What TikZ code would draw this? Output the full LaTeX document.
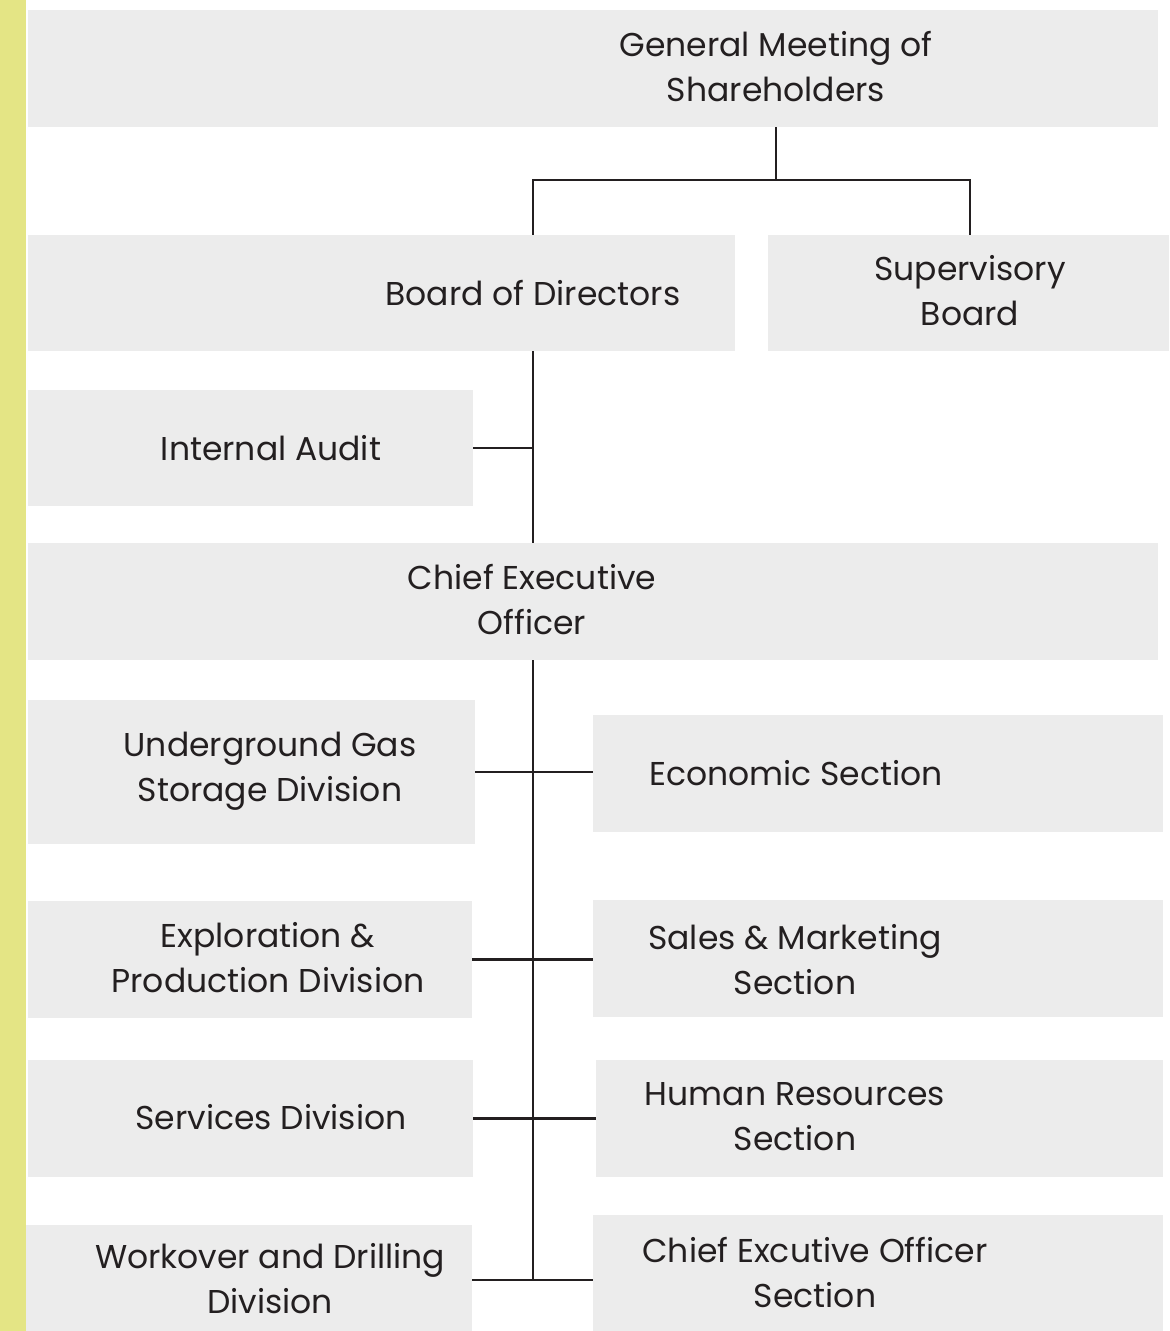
\documentclass[tikz,border=0pt]{standalone}
\usepackage{fontspec}
\setmainfont{Poppins}
\usepackage{tikz}

\definecolor{boxgray}{HTML}{ECECEC}
\definecolor{barlime}{HTML}{E4E585}
\definecolor{ink}{HTML}{231F20}

\tikzset{
  box/.style={fill=boxgray, draw=none, inner sep=0pt},
  boxsize/.style 2 args={minimum width=#1*0.5pt, minimum height=#2*0.5pt},
  txt/.style={align=center, inner sep=0pt, text=ink,
    font=\fontsize{16.5}{22.5}\selectfont},
  link/.style={draw=ink, line width=1.4pt}
}

\begin{document}
\begin{tikzpicture}[x=0.5pt, y=-0.5pt]
  \useasboundingbox (0,0) rectangle (1169,1331);
  % side bar
  \fill[barlime] (0,0) rectangle (26,1331);
  % boxes
  \node[box, boxsize={1130}{117}] (gm)   at (593,68.5) {};
  \node[box, boxsize={707}{116}]  (bod)  at (381.5,293) {};
  \node[box, boxsize={401}{116}]  (sb)   at (968.5,293) {};
  \node[box, boxsize={445}{116}]  (ia)   at (250.5,448) {};
  \node[box, boxsize={1130}{117}] (ceo)  at (593,601.5) {};
  \node[box, boxsize={447}{144}]  (ugs)  at (251.5,772) {};
  \node[box, boxsize={570}{117}]  (econ) at (878,773.5) {};
  \node[box, boxsize={444}{117}]  (ep)   at (250,959.5) {};
  \node[box, boxsize={570}{117}]  (sm)   at (878,958.5) {};
  \node[box, boxsize={445}{117}]  (svc)  at (250.5,1118.5) {};
  \node[box, boxsize={567}{117}]  (hr)   at (879.5,1118.5) {};
  \node[box, boxsize={446}{106}]  (wd)   at (249,1278) {};
  \node[box, boxsize={570}{116}]  (ceos) at (878,1273) {};
  % labels
  \node[txt] (gmtxt)   at (776,67)    {General Meeting of\\Shareholders};
  \node[txt] (bodtxt)  at (533,293)   {Board of Directors};
  \node[txt] (sbtxt)   at (970,291)   {Supervisory\\Board};
  \node[txt] (iatxt)   at (271,448)   {Internal Audit};
  \node[txt] (ceotxt)  at (532,600)   {Chief Executive\\Officer};
  \node[txt] (ugstxt)  at (270,771)   {Underground Gas\\Storage Division};
  \node[txt] (econtxt) at (796,773)   {Economic Section};
  \node[txt] (eptxt)   at (268,958)   {Exploration \&\\Production Division};
  \node[txt] (smtxt)   at (795,960)   {Sales \& Marketing\\Section};
  \node[txt] (svctxt)  at (271,1117)  {Services Division};
  \node[txt] (hrtxt)   at (795,1117)  {Human Resources\\Section};
  \node[txt] (wdtxt)   at (270,1279)  {Workover and Drilling\\Division};
  \node[txt] (ceostxt) at (815,1273)  {Chief Excutive Officer\\Section};
  % connectors
  \coordinate (split) at (776,180);
  \coordinate (trunk) at (533,1280);
  \draw[link] (gm.south -| split) -- (split);
  \draw[link] (bodtxt |- bod.north) |- (split) -| (sbtxt |- sb.north);
  \draw[link] (trunk |- bod.south) -- (trunk |- ceo.north);
  \draw[link] (ia.east) -- (ia.east -| trunk);
  \draw[link] (trunk |- ceo.south) -- (trunk);
  \draw[link] (ugs.east) -- (econ.west |- ugs.east);
  \draw[link] (ep.east) -- (sm.west |- ep.east);
  \draw[link] (svc.east) -- (hr.west |- svc.east);
  \draw[link] (wd.east |- trunk) -- (ceos.west |- trunk);
\end{tikzpicture}
\end{document}
